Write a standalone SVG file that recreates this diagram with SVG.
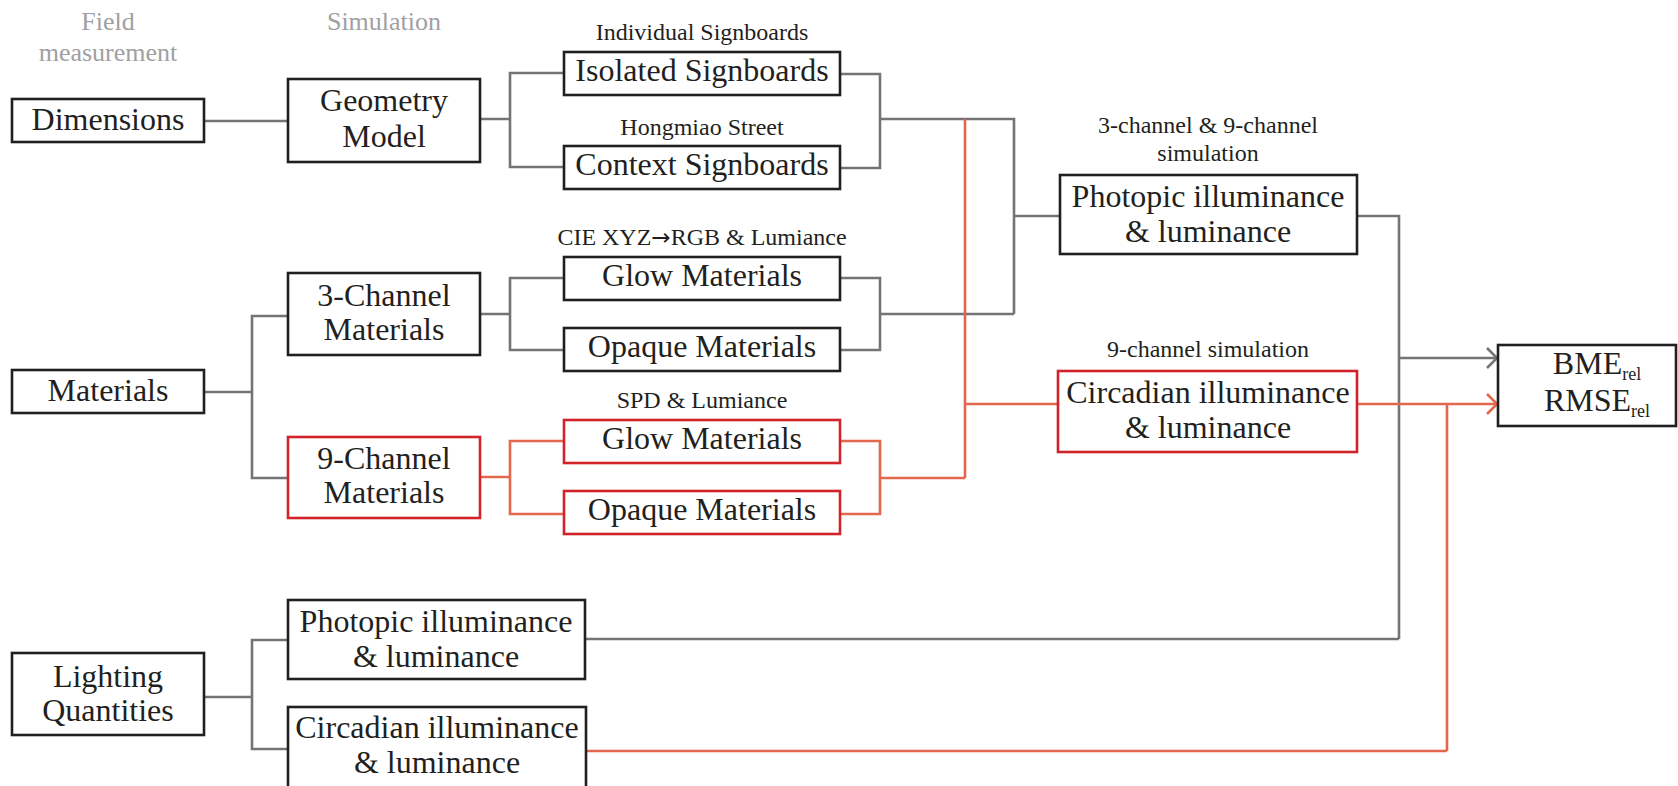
<svg xmlns="http://www.w3.org/2000/svg" width="1678" height="786" viewBox="0 0 1678 786">
<style>
.box{fill:#fff;stroke:#231f20;stroke-width:2.6}
.rbox{fill:#fff;stroke:#d2232a;stroke-width:2.6}
.t{font-family:"Liberation Serif","Times New Roman",serif;font-size:32px;fill:#231f20;text-anchor:middle}
.s{font-family:"Liberation Serif","Times New Roman",serif;font-size:24px;fill:#231f20;text-anchor:middle}
.h{font-family:"Liberation Serif","Times New Roman",serif;font-size:26px;fill:#a0a0a2;text-anchor:middle}
.g{fill:none;stroke:#737477;stroke-width:2.6}
.o{fill:none;stroke:#e2674c;stroke-width:2.6}
</style>
<defs>
<marker id="ag" markerWidth="14" markerHeight="24" refX="12" refY="12" orient="auto" markerUnits="userSpaceOnUse"><path d="M2,2 L12,12 L2,22" fill="none" stroke="#737477" stroke-width="2.6"/></marker>
<marker id="ao" markerWidth="14" markerHeight="24" refX="12" refY="12" orient="auto" markerUnits="userSpaceOnUse"><path d="M2,2 L12,12 L2,22" fill="none" stroke="#e2674c" stroke-width="2.6"/></marker>
</defs>
<rect width="1678" height="786" fill="#fff"/>
<g id="headers">
<text class="h" x="108" y="30">Field</text>
<text class="h" x="108" y="61">measurement</text>
<text class="h" x="384" y="30">Simulation</text>
</g>
<g id="labels">
<text class="s" x="702" y="40">Individual Signboards</text>
<text class="s" x="702" y="135">Hongmiao Street</text>
<text class="s" x="702" y="245">CIE XYZ<tspan font-family="'DejaVu Sans',sans-serif" font-size="23">→</tspan>RGB &amp; Lumiance</text>
<text class="s" x="702" y="408">SPD &amp; Lumiance</text>
<text class="s" x="1208" y="133">3-channel &amp; 9-channel</text>
<text class="s" x="1208" y="161">simulation</text>
<text class="s" x="1208" y="357">9-channel simulation</text>
</g>
<g id="connectors">
<path class="g" d="M204,121 H288"/>
<path class="g" d="M480,119 H510 M564,73 H510 V167 H564"/>
<path class="g" d="M840,74 H880 V168 H840 M880,119 H1014 V314 M1014,216 H1060"/>
<path class="g" d="M840,278 H880 V350 H840 M880,314 H1014"/>
<path class="g" d="M204,392 H252 M288,316 H252 V478 H288"/>
<path class="g" d="M480,314 H510 M564,278 H510 V350 H564"/>
<path class="g" d="M1357,216 H1399 V639"/>
<path class="g" d="M1399,358 H1497" marker-end="url(#ag)"/>
<path class="g" d="M585,639 H1399"/>
<path class="g" d="M204,697 H252 M288,640 H252 V749 H288"/>
<path class="o" d="M965,119 V478 M965,404 H1058"/>
<path class="o" d="M840,441 H880 V514 H840 M880,478 H965"/>
<path class="o" d="M480,477 H510 M564,441 H510 V514 H564"/>
<path class="o" d="M1357,404 H1497" marker-end="url(#ao)"/>
<path class="o" d="M1447,404 V751 M586,751 H1447"/>
</g>
<g id="dimensions"><rect class="box" x="12" y="99" width="192" height="43"/><text class="t" x="108" y="130">Dimensions</text></g>
<g id="geometry-model"><rect class="box" x="288" y="79" width="192" height="83"/><text class="t" x="384" y="111">Geometry</text><text class="t" x="384" y="147">Model</text></g>
<g id="isolated-signboards"><rect class="box" x="564" y="52" width="276" height="43"/><text class="t" x="702" y="81">Isolated Signboards</text></g>
<g id="context-signboards"><rect class="box" x="564" y="146" width="276" height="43"/><text class="t" x="702" y="175">Context Signboards</text></g>
<g id="photopic-sim"><rect class="box" x="1060" y="175" width="297" height="79"/><text class="t" x="1208" y="207">Photopic illuminance</text><text class="t" x="1208" y="242">&amp; luminance</text></g>
<g id="three-channel"><rect class="box" x="288" y="273" width="192" height="82"/><text class="t" x="384" y="306">3-Channel</text><text class="t" x="384" y="340">Materials</text></g>
<g id="glow-3"><rect class="box" x="564" y="257" width="276" height="43"/><text class="t" x="702" y="286">Glow Materials</text></g>
<g id="opaque-3"><rect class="box" x="564" y="328" width="276" height="43"/><text class="t" x="702" y="357">Opaque Materials</text></g>
<g id="materials"><rect class="box" x="12" y="370" width="192" height="43"/><text class="t" x="108" y="401">Materials</text></g>
<g id="nine-channel"><rect class="rbox" x="288" y="437" width="192" height="81"/><text class="t" x="384" y="469">9-Channel</text><text class="t" x="384" y="503">Materials</text></g>
<g id="glow-9"><rect class="rbox" x="564" y="420" width="276" height="43"/><text class="t" x="702" y="449">Glow Materials</text></g>
<g id="opaque-9"><rect class="rbox" x="564" y="491" width="276" height="43"/><text class="t" x="702" y="520">Opaque Materials</text></g>
<g id="circadian-sim"><rect class="rbox" x="1058" y="371" width="299" height="81"/><text class="t" x="1208" y="403">Circadian illuminance</text><text class="t" x="1208" y="438">&amp; luminance</text></g>
<g id="metrics"><rect class="box" x="1498" y="345" width="178" height="81"/><text class="t" x="1597" y="374">BME<tspan font-size="18" dy="6">rel</tspan></text><text class="t" x="1597" y="411">RMSE<tspan font-size="18" dy="6">rel</tspan></text></g>
<g id="lighting-quantities"><rect class="box" x="12" y="653" width="192" height="82"/><text class="t" x="108" y="687">Lighting</text><text class="t" x="108" y="721">Quantities</text></g>
<g id="photopic-field"><rect class="box" x="288" y="600" width="297" height="79"/><text class="t" x="436" y="632">Photopic illuminance</text><text class="t" x="436" y="667">&amp; luminance</text></g>
<g id="circadian-field"><rect class="box" x="288" y="707" width="298" height="82"/><text class="t" x="437" y="738">Circadian illuminance</text><text class="t" x="437" y="773">&amp; luminance</text></g>
</svg>
